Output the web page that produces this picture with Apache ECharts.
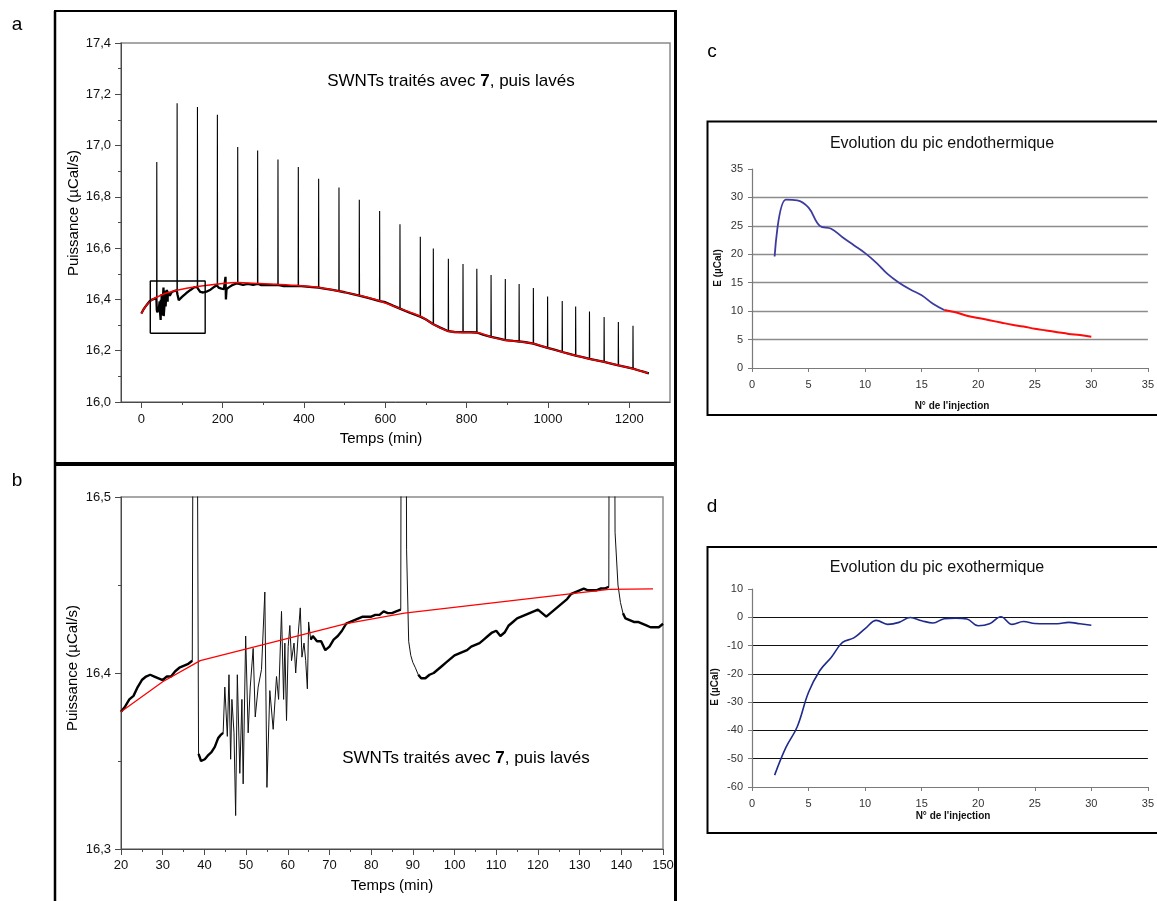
<!DOCTYPE html>
<html>
<head>
<meta charset="utf-8">
<script src="https://cdn.jsdelivr.net/npm/echarts@6/dist/echarts.min.js"></script>
<style>
html,body{margin:0;padding:0;background:#fff;}
#chart{width:1157px;height:901px;}
</style>
</head>
<body>
<div id="chart"></div>
<script>
// ---------- Panel a : full ITC run (time in min, power in µCal/s) ----------
const aXMajor = [0, 200, 400, 600, 800, 1000, 1200];
const aXMinor = [100, 300, 500, 700, 900, 1100];

// baseline of the measured signal (between injections)
const aTrace = [
  [0,16.345],[5,16.36],[10,16.372],[15,16.382],[20,16.392],[25,16.398],[30,16.401],[37,16.406],
  [38,16.36],[39,16.35],[41,16.355],[43,16.363],[44.5,16.366],[45,16.392],[46,16.35],[47.5,16.32],
  [48,16.399],[49.3,16.337],[50,16.421],[51,16.392],[52,16.375],[54.5,16.446],[55,16.335],[56.5,16.368],
  [58.5,16.435],[59.7,16.373],[61,16.415],[63,16.437],[64.7,16.391],[65,16.429],[70,16.415],[75,16.429],
  [80,16.432],[87,16.435],[89,16.418],[92,16.397],[100,16.41],[110,16.424],[120,16.436],[130,16.447],
  [137,16.449],[140,16.44],[145,16.429],[152,16.427],[160,16.43],[170,16.438],[180,16.45],[186,16.455],
  [190,16.446],[197,16.442],[203,16.44],[206,16.445],[207,16.488],[208,16.40],[209.5,16.44],[215,16.447],
  [225,16.457],[236,16.463],[240,16.462],[250,16.457],[262,16.461],[275,16.457],[286,16.461],[295,16.456],
  [310,16.457],[325,16.456],[336,16.457],[350,16.452],[370,16.452],[386,16.453],[400,16.451],[420,16.448],
  [436,16.446],[450,16.442],[470,16.437],[486,16.432],[500,16.428],[520,16.421],[536,16.415],[560,16.405],
  [586,16.393],[600,16.389],[620,16.375],[636,16.364],[660,16.348],[686,16.333],[700,16.322],[718,16.303],
  [735,16.29],[755,16.276],[770,16.273],[791,16.272],[810,16.272],[825,16.271],[840,16.263],[860,16.254],
  [880,16.247],[895,16.241],[915,16.238],[929,16.236],[945,16.233],[964,16.228],[980,16.22],[999,16.211],
  [1020,16.202],[1035,16.195],[1050,16.189],[1068,16.181],[1085,16.175],[1102,16.168],[1120,16.162],
  [1138,16.156],[1155,16.15],[1173,16.143],[1190,16.137],[1209,16.13],[1230,16.12],[1248,16.112]
];

// injection peaks
const aSpikeTime = [38,88,138,187,237,286,336,386,436,486,536,586,636,686,718,755,791,825,860,895,929,964,999,1035,1068,1102,1138,1173,1209];
const aSpikeBase = [16.406,16.436,16.449,16.455,16.463,16.461,16.457,16.453,16.446,16.432,16.415,16.393,16.364,16.333,16.303,16.276,16.272,16.271,16.254,16.241,16.236,16.228,16.211,16.195,16.181,16.168,16.156,16.143,16.13];
const aSpikePeak = [16.936,17.165,17.15,17.12,16.994,16.981,16.946,16.916,16.871,16.836,16.789,16.745,16.693,16.644,16.599,16.559,16.538,16.52,16.495,16.48,16.46,16.445,16.411,16.394,16.372,16.353,16.331,16.312,16.297];

// fitted baseline (red)
const aFit = [
  [0,16.345],[10,16.372],[20,16.39],[30,16.402],[40,16.41],[60,16.424],[88,16.436],[138,16.45],[188,16.46],
  [238,16.466],[290,16.462],[340,16.458],[390,16.453],[440,16.446],[490,16.431],[540,16.414],[590,16.392],
  [640,16.362],[690,16.331],[718,16.303],[755,16.276],[790,16.272],[825,16.271],[860,16.254],[895,16.241],
  [929,16.236],[964,16.228],[999,16.211],[1035,16.195],[1068,16.181],[1102,16.168],[1138,16.156],
  [1173,16.143],[1209,16.13],[1246,16.113]
];

// enlarged window shown in panel b
const zoomBox = [[22,16.268],[157,16.268],[157,16.472],[22,16.472],[22,16.268]];

// ---------- Panel b : first 150 min ----------
const bTrace = [
  [20,16.378],[21,16.381],[22,16.385],[23,16.387],[24,16.392],[25,16.396],[26,16.398],[27,16.399],[28,16.398],
  [29,16.397],[30,16.396],[31,16.398],[32,16.398],[33,16.401],[34,16.403],[35,16.404],[36,16.405],[37.1,16.407],
  [37.7,16.936],
  [38.6,16.354],[39.2,16.350],[40.1,16.351],[40.8,16.353],[41.7,16.355],[42.5,16.358],[43.3,16.363],[44,16.365],[44.5,16.366],
  [44.9,16.392],[45.5,16.364],[45.9,16.399],[46.3,16.351],[46.6,16.385],[47.1,16.366],[47.5,16.319],[47.9,16.399],
  [48.5,16.343],[49.0,16.385],[49.3,16.337],[49.9,16.421],[50.5,16.366],[51.0,16.392],[51.7,16.414],[52.2,16.375],
  [52.9,16.392],[53.7,16.402],[54.5,16.446],[55.0,16.335],[55.7,16.390],[56.5,16.368],[57.3,16.398],[57.8,16.385],
  [58.5,16.435],[59.0,16.385],[59.3,16.417],[59.7,16.373],[60.1,16.415],[60.5,16.427],[60.9,16.407],[61.5,16.417],
  [61.9,16.400],[62.5,16.422],[63.0,16.437],[63.4,16.409],[63.9,16.417],[64.3,16.407],[64.7,16.391],[65.0,16.429],
  [65.5,16.419],[66,16.421],[67,16.418],[68,16.418],[69,16.413],[70,16.415],[71,16.419],[72,16.421],[73,16.424],
  [74,16.428],[75,16.429],[76,16.430],[77,16.431],[78,16.432],[79,16.432],[80,16.432],[81,16.433],[82,16.433],
  [83,16.435],[84,16.434],[85,16.434],[86,16.435],[87.1,16.436],
  [87.7,17.165],
  [88.5,16.47],[89,16.418],[89.5,16.41],[90,16.406],[90.6,16.403],[91.3,16.399],[92,16.397],[93,16.397],[94,16.399],
  [95,16.4],[96,16.402],[97,16.404],[98,16.406],[99,16.408],[100,16.41],[101,16.411],[102,16.412],[103,16.413],
  [104,16.415],[105,16.416],[106,16.417],[107,16.419],[108,16.421],[109,16.423],[110,16.424],[111,16.421],
  [112,16.423],[113,16.427],[114,16.429],[115,16.431],[116,16.432],[117,16.433],[118,16.434],[119,16.435],
  [120,16.436],[121,16.434],[122,16.432],[123,16.434],[124,16.436],[125,16.438],[126,16.440],[127,16.442],
  [128,16.445],[129,16.446],[130,16.447],[131,16.448],[132,16.447],[133,16.447],[134,16.447],[135,16.448],
  [136,16.448],[137,16.449],
  [137.6,17.15],
  [138.5,16.48],[139.2,16.45],[139.8,16.44],[140.4,16.434],[141,16.431],[142,16.430],[143,16.429],[144,16.429],
  [145,16.428],[146,16.427],[147,16.426],[148,16.426],[149,16.426],[150,16.428]
];
// stretches where the signal is a steady (noisy, thick) baseline
const bCalm = [[20,37.1],[38.6,44.5],[65.5,87.1],[91.3,137],[140.4,150]];
const bFit = [[20,16.378],[30,16.395],[39,16.407],[74,16.428],[88,16.434],[137,16.4475],[147.6,16.4478]];

// ---------- Panels c and d : peak energy per injection ----------
const injections = [2,3,4,5,6,7,8,9,10,11,12,13,14,15,16,17,18,19,20,21,22,23,24,25,26,27,28,29,30];
const endoValues = [19.6,29.6,29.5,28.2,25.0,24.5,23.0,21.6,20.2,18.5,16.5,15.0,13.8,12.8,11.3,10.2,9.8,9.2,8.8,8.4,8.0,7.6,7.3,6.9,6.6,6.3,6.0,5.8,5.5];
const endoSplit = 17; // injections from here on are drawn in red
const exoValues = [-55.8,-46.0,-38.7,-26.5,-18.8,-14.2,-8.9,-7.3,-4.0,-1.1,-2.5,-1.8,-0.1,-1.2,-2.0,-0.5,-0.3,-0.6,-3.0,-2.3,0.2,-2.5,-1.5,-2.2,-2.3,-2.3,-1.8,-2.3,-2.8];

// ---------- helpers ----------
const FONT = '"Liberation Sans", Arial, Helvetica, sans-serif';
const comma1 = v => v.toFixed(1).replace('.', ',');
const plain = v => String(Math.round(v));

function spikeSegments(times, bases, peaks) {
  const out = [];
  times.forEach((t, i) => {
    out.push([t - 0.4, bases[i]], [t, peaks[i]], [t + 0.6, bases[i]], [t + 0.6, '-']);
  });
  return out;
}
function pickRanges(points, ranges) {
  const out = [];
  ranges.forEach(([a, b]) => {
    points.forEach(p => { if (p[0] >= a && p[0] <= b) out.push(p); });
    out.push([b, '-']);
  });
  return out;
}
const endoBlue = injections.filter(n => n <= endoSplit).map((n, i) => [n, endoValues[i]]);
const endoRed = injections.map((n, i) => [n, endoValues[i]]).filter(p => p[0] >= endoSplit);
const exoLine = injections.map((n, i) => [n, exoValues[i]]);

// ---------- axis styles ----------
const originAxisLine = { show: true, onZero: false, lineStyle: { color: '#4a4a4a', width: 1 } };
const originLabel = { fontFamily: FONT, fontSize: 13, color: '#111' };
const xlAxisLine = { show: true, onZero: false, lineStyle: { color: '#7a7a7a', width: 1.2 } };
const xlLabel = { fontFamily: FONT, fontSize: 11, color: '#333' };

const chart = echarts.init(document.getElementById('chart'), null, { renderer: 'canvas' });

const option = {
  backgroundColor: '#ffffff',
  animation: false,
  grid: [
    { left: 121, top: 43, width: 549, height: 359, show: true, borderColor: '#8a8a8a', borderWidth: 1.5, backgroundColor: 'transparent' },
    { left: 121, top: 497, width: 542, height: 352, show: true, borderColor: '#8a8a8a', borderWidth: 1.5, backgroundColor: 'transparent' },
    { left: 752, top: 169, width: 400, height: 199 },
    { left: 752, top: 589, width: 400, height: 198 },
    { left: 121, top: 43, width: 549, height: 359 }
  ],
  xAxis: [
    { gridIndex: 0, type: 'value', min: -50, max: 1300,
      axisLine: originAxisLine,
      axisTick: { show: true, customValues: aXMajor, length: 6, lineStyle: { color: '#4a4a4a' } },
      axisLabel: Object.assign({ customValues: aXMajor, margin: 11, formatter: plain }, originLabel),
      splitLine: { show: false } },
    { gridIndex: 1, type: 'value', min: 20, max: 150, interval: 10,
      axisLine: originAxisLine,
      axisTick: { show: true, length: 6, lineStyle: { color: '#4a4a4a' } },
      minorTick: { show: true, splitNumber: 2, length: 3, lineStyle: { color: '#4a4a4a' } },
      axisLabel: Object.assign({ margin: 10, formatter: plain }, originLabel),
      splitLine: { show: false } },
    { gridIndex: 2, type: 'value', min: 0, max: 35, interval: 5,
      axisLine: xlAxisLine,
      axisTick: { show: true, length: 4, lineStyle: { color: '#7a7a7a' } },
      axisLabel: Object.assign({ margin: 11 }, xlLabel),
      splitLine: { show: false } },
    { gridIndex: 3, type: 'value', min: 0, max: 35, interval: 5,
      axisLine: xlAxisLine,
      axisTick: { show: true, length: 4, lineStyle: { color: '#7a7a7a' } },
      axisLabel: Object.assign({ margin: 11 }, xlLabel),
      splitLine: { show: false } },
    { gridIndex: 4, type: 'value', min: -50, max: 1300,
      axisLine: { show: false, onZero: false },
      axisTick: { show: true, customValues: aXMinor, length: 3, lineStyle: { color: '#4a4a4a' } },
      axisLabel: { show: false },
      splitLine: { show: false } }
  ],
  yAxis: [
    { gridIndex: 0, type: 'value', min: 16.0, max: 17.4, interval: 0.2,
      axisLine: originAxisLine,
      axisTick: { show: true, length: 6, lineStyle: { color: '#4a4a4a' } },
      minorTick: { show: true, splitNumber: 2, length: 3, lineStyle: { color: '#4a4a4a' } },
      axisLabel: Object.assign({ margin: 10, formatter: comma1 }, originLabel),
      splitLine: { show: false } },
    { gridIndex: 1, type: 'value', min: 16.3, max: 16.5, interval: 0.1,
      axisLine: originAxisLine,
      axisTick: { show: true, length: 6, lineStyle: { color: '#4a4a4a' } },
      minorTick: { show: true, splitNumber: 2, length: 3, lineStyle: { color: '#4a4a4a' } },
      axisLabel: Object.assign({ margin: 10, formatter: comma1 }, originLabel),
      splitLine: { show: false } },
    { gridIndex: 2, type: 'value', min: 0, max: 35, interval: 5,
      axisLine: xlAxisLine,
      axisTick: { show: true, length: 4, lineStyle: { color: '#7a7a7a' } },
      axisLabel: Object.assign({ margin: 9 }, xlLabel),
      splitLine: { show: true, showMinLine: false, showMaxLine: false, lineStyle: { color: '#8c8c8c', width: 1.4 } } },
    { gridIndex: 3, type: 'value', min: -60, max: 10, interval: 10,
      axisLine: xlAxisLine,
      axisTick: { show: true, length: 4, lineStyle: { color: '#7a7a7a' } },
      axisLabel: Object.assign({ margin: 9 }, xlLabel),
      splitLine: { show: true, showMinLine: false, showMaxLine: false, lineStyle: { color: '#111', width: 1 } } },
    { gridIndex: 4, type: 'value', min: 16.0, max: 17.4, show: false }
  ],
  series: [
    // panel a
    { type: 'line', xAxisIndex: 0, yAxisIndex: 0, data: aTrace, showSymbol: false, silent: true,
      lineStyle: { color: '#000', width: 2.3 }, z: 2 },
    { type: 'line', xAxisIndex: 0, yAxisIndex: 0, data: spikeSegments(aSpikeTime, aSpikeBase, aSpikePeak),
      showSymbol: false, silent: true, connectNulls: false, lineStyle: { color: '#000', width: 1.1 }, z: 2 },
    { type: 'line', xAxisIndex: 0, yAxisIndex: 0, data: aFit, showSymbol: false, silent: true, smooth: 0.3,
      lineStyle: { color: '#ff0000', width: 1.5 }, z: 3 },
    { type: 'line', xAxisIndex: 0, yAxisIndex: 0, data: zoomBox, showSymbol: false, silent: true,
      lineStyle: { color: '#000', width: 1.4 }, z: 4 },
    // panel b
    { type: 'line', xAxisIndex: 1, yAxisIndex: 1, data: bTrace, showSymbol: false, silent: true,
      lineStyle: { color: '#111', width: 1 }, z: 2 },
    { type: 'line', xAxisIndex: 1, yAxisIndex: 1, data: pickRanges(bTrace, bCalm), showSymbol: false, silent: true,
      connectNulls: false, lineStyle: { color: '#000', width: 2.4 }, z: 2 },
    { type: 'line', xAxisIndex: 1, yAxisIndex: 1, data: bFit, showSymbol: false, silent: true,
      lineStyle: { color: '#ff0000', width: 1.3 }, z: 3 },
    // panel c
    { type: 'line', xAxisIndex: 2, yAxisIndex: 2, data: endoBlue, showSymbol: false, silent: true, smooth: 0.4,
      lineStyle: { color: '#3c3ca0', width: 1.8 }, z: 3 },
    { type: 'line', xAxisIndex: 2, yAxisIndex: 2, data: endoRed, showSymbol: false, silent: true, smooth: 0.4,
      lineStyle: { color: '#ff0a0a', width: 2 }, z: 3 },
    // panel d
    { type: 'line', xAxisIndex: 3, yAxisIndex: 3, data: exoLine, showSymbol: false, silent: true, smooth: 0.4,
      lineStyle: { color: '#1e2a8c', width: 1.6 }, z: 3 },
    // tick holder for the minor ticks of panel a
    { type: 'line', xAxisIndex: 4, yAxisIndex: 4, data: [], silent: true }
  ],
  graphic: [
    // frames around panels a and b
    { type: 'line', shape: { x1: 55, y1: 11, x2: 55, y2: 901 }, style: { stroke: '#000', lineWidth: 2.5 } },
    { type: 'line', shape: { x1: 54, y1: 11, x2: 677, y2: 11 }, style: { stroke: '#000', lineWidth: 2 } },
    { type: 'line', shape: { x1: 675.5, y1: 10, x2: 675.5, y2: 901 }, style: { stroke: '#000', lineWidth: 3 } },
    { type: 'line', shape: { x1: 54, y1: 464, x2: 677, y2: 464 }, style: { stroke: '#000', lineWidth: 4 } },
    // frames around panels c and d
    { type: 'rect', shape: { x: 707.5, y: 121.5, width: 470, height: 293.5 }, style: { fill: 'none', stroke: '#000', lineWidth: 2 } },
    { type: 'rect', shape: { x: 707.5, y: 547, width: 470, height: 286 }, style: { fill: 'none', stroke: '#000', lineWidth: 2 } },
    // panel letters
    { type: 'text', x: 17, y: 25, style: { text: 'a', font: '19px ' + FONT, fill: '#000', align: 'center', verticalAlign: 'middle', textAlign: 'center', textVerticalAlign: 'middle' } },
    { type: 'text', x: 17, y: 481, style: { text: 'b', font: '19px ' + FONT, fill: '#000', align: 'center', verticalAlign: 'middle', textAlign: 'center', textVerticalAlign: 'middle' } },
    { type: 'text', x: 712, y: 52, style: { text: 'c', font: '19px ' + FONT, fill: '#000', align: 'center', verticalAlign: 'middle', textAlign: 'center', textVerticalAlign: 'middle' } },
    { type: 'text', x: 712, y: 507, style: { text: 'd', font: '19px ' + FONT, fill: '#000', align: 'center', verticalAlign: 'middle', textAlign: 'center', textVerticalAlign: 'middle' } },
    // annotations
    { type: 'text', x: 451, y: 81, style: { text: 'SWNTs traités avec {b|7}, puis lavés', font: '17px ' + FONT, fill: '#000',
      rich: { b: { fontFamily: FONT, fontSize: 17, fontWeight: 'bold', fill: '#000' } },
      align: 'center', verticalAlign: 'middle', textAlign: 'center', textVerticalAlign: 'middle' } },
    { type: 'text', x: 466, y: 758, style: { text: 'SWNTs traités avec {b|7}, puis lavés', font: '17px ' + FONT, fill: '#000',
      rich: { b: { fontFamily: FONT, fontSize: 17, fontWeight: 'bold', fill: '#000' } },
      align: 'center', verticalAlign: 'middle', textAlign: 'center', textVerticalAlign: 'middle' } },
    // axis names, panels a and b
    { type: 'text', x: 74, y: 213, rotation: Math.PI / 2, style: { text: 'Puissance (µCal/s)', font: '15px ' + FONT, fill: '#000', align: 'center', verticalAlign: 'middle', textAlign: 'center', textVerticalAlign: 'middle' } },
    { type: 'text', x: 381, y: 439, style: { text: 'Temps (min)', font: '15px ' + FONT, fill: '#000', align: 'center', verticalAlign: 'middle', textAlign: 'center', textVerticalAlign: 'middle' } },
    { type: 'text', x: 73, y: 668, rotation: Math.PI / 2, style: { text: 'Puissance (µCal/s)', font: '15px ' + FONT, fill: '#000', align: 'center', verticalAlign: 'middle', textAlign: 'center', textVerticalAlign: 'middle' } },
    { type: 'text', x: 392, y: 886, style: { text: 'Temps (min)', font: '15px ' + FONT, fill: '#000', align: 'center', verticalAlign: 'middle', textAlign: 'center', textVerticalAlign: 'middle' } },
    // titles and axis names, panels c and d
    { type: 'text', x: 942, y: 144, style: { text: 'Evolution du pic endothermique', font: '16px ' + FONT, fill: '#111', align: 'center', verticalAlign: 'middle', textAlign: 'center', textVerticalAlign: 'middle' } },
    { type: 'text', x: 718, y: 268, rotation: Math.PI / 2, style: { text: 'E (µCal)', font: 'bold 10px ' + FONT, fill: '#111', align: 'center', verticalAlign: 'middle', textAlign: 'center', textVerticalAlign: 'middle' } },
    { type: 'text', x: 952, y: 406, style: { text: "N° de l'injection", font: 'bold 10px ' + FONT, fill: '#111', align: 'center', verticalAlign: 'middle', textAlign: 'center', textVerticalAlign: 'middle' } },
    { type: 'text', x: 937, y: 568, style: { text: 'Evolution du pic exothermique', font: '16px ' + FONT, fill: '#111', align: 'center', verticalAlign: 'middle', textAlign: 'center', textVerticalAlign: 'middle' } },
    { type: 'text', x: 715, y: 687, rotation: Math.PI / 2, style: { text: 'E (µCal)', font: 'bold 10px ' + FONT, fill: '#111', align: 'center', verticalAlign: 'middle', textAlign: 'center', textVerticalAlign: 'middle' } },
    { type: 'text', x: 953, y: 816, style: { text: "N° de l'injection", font: 'bold 10px ' + FONT, fill: '#111', align: 'center', verticalAlign: 'middle', textAlign: 'center', textVerticalAlign: 'middle' } }
  ]
};

chart.setOption(option);
</script>
</body>
</html>
